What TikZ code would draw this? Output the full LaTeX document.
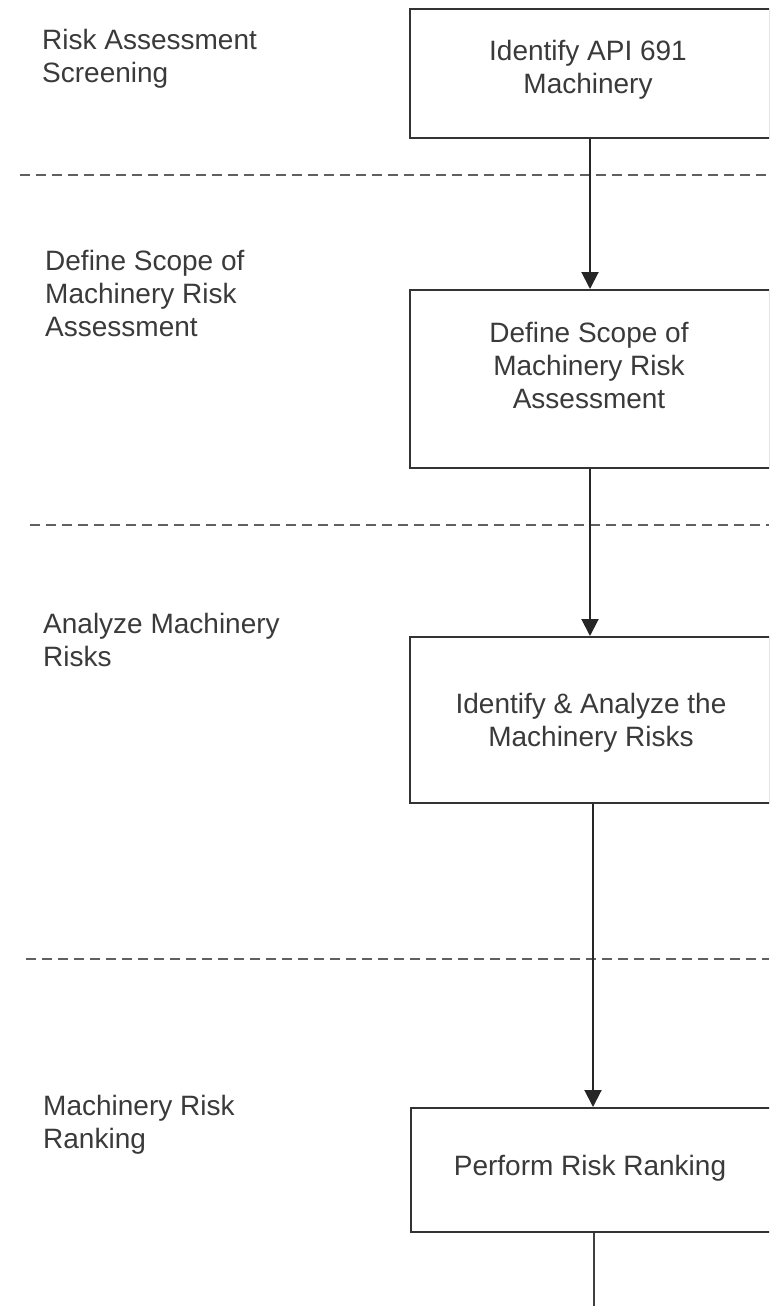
\documentclass[tikz,border=0pt]{standalone}
\usepackage{fontspec}
\setmainfont{Liberation Sans}
\usetikzlibrary{arrows.meta}
\definecolor{txt}{HTML}{3A3A3A}
\definecolor{boxline}{HTML}{333333}
\definecolor{dashcol}{HTML}{606060}
\tikzset{
  stepbox/.style={draw=boxline, line width=2pt, minimum width=360pt, inner sep=0pt, fill=white},
  boxtext/.style={anchor=base, align=center, text=txt, inner sep=0pt, font=\fontsize{28}{33}\selectfont},
  lefttext/.style={anchor=base west, align=left, text=txt, inner sep=0pt, font=\fontsize{28}{33}\selectfont},
  sep/.style={draw=dashcol, line width=2pt, dash pattern=on 10pt off 6pt},
  flow/.style={draw=black!85, line width=2pt, -{Triangle[width=17pt,length=17pt]}},
  plain/.style={draw=black!75, line width=2pt}
}
\begin{document}
\begin{tikzpicture}[x=1pt,y=-1pt]
\useasboundingbox (0,0) rectangle (769,1306);
\begin{scope}
\clip (0,0) rectangle (769,1306);
% separators
\coordinate (s1a) at (20,175);  \coordinate (s1b) at (769,175);
\coordinate (s2a) at (30,525);  \coordinate (s2b) at (769,525);
\coordinate (s3a) at (26,959);  \coordinate (s3b) at (769,959);
\draw[sep] (s1a) -- (s1b);
\draw[sep] (s2a) -- (s2b);
\draw[sep] (s3a) -- (s3b);

% boxes
\node[stepbox, minimum height=129pt] (b1) at (590,73.5) {};
\node[stepbox, minimum height=178pt] (b2) at (590,379) {};
\node[stepbox, minimum height=166pt] (b3) at (590,720) {};
\node[stepbox, minimum height=124pt] (b4) at (591,1170) {};
\coordinate (bottom) at (594,1306);

% connectors
\coordinate (x1) at (590,0);
\coordinate (x3) at (593,0);
\coordinate (x4) at (594,0);
\draw[flow] (b1.south -| x1) -- (b2.north -| x1);
\draw[flow] (b2.south -| x1) -- (b3.north -| x1);
\draw[flow] (b3.south -| x3) -- (b4.north -| x3);
\draw[plain] (b4.south -| x4) -- (bottom);

% box texts (base = baseline of last line)
\node[boxtext] (t1) at (588,93) {Identify API 691\\Machinery};
\node[boxtext] (t2) at (589,408) {Define Scope of\\Machinery Risk\\Assessment};
\node[boxtext] (t3) at (591,746) {Identify \& Analyze the\\Machinery Risks};
\node[boxtext] (t4) at (590,1175) {Perform Risk Ranking};

% left labels
\node[lefttext] (l1) at (42,82) {Risk Assessment\\Screening};
\node[lefttext] (l2) at (45,336) {Define Scope of\\Machinery Risk\\Assessment};
\node[lefttext] (l3) at (43,666) {Analyze Machinery\\Risks};
\node[lefttext] (l4) at (43,1148) {Machinery Risk\\Ranking};
\end{scope}
\end{tikzpicture}
\end{document}
